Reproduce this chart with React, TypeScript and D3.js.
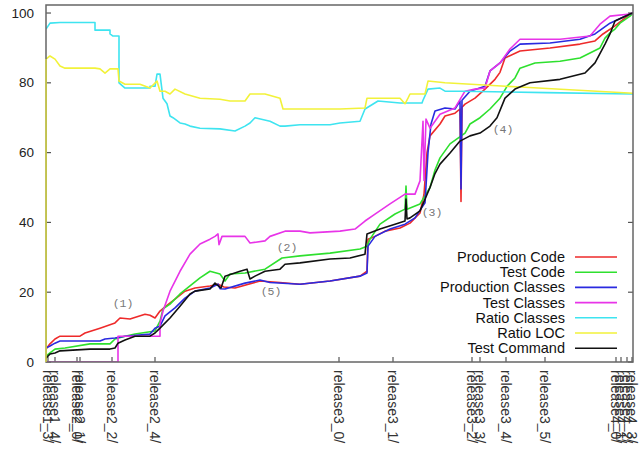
import React from 'react';
import * as d3 from 'd3';

type Pt = [number, number];

// x = commit index, y = percent
const productionCode: Pt[] = [[0,3.7],[4,5.2],[9,6.6],[14,7.4],[34,7.4],[39,8.3],[54,9.7],[69,11.2],[74,12.6],[84,12.3],[99,13.7],[104,13.4],[109,12.6],[114,14.6],[119,15.8],[129,18],[139,20.3],[149,21.2],[164,21.8],[172,22.3],[178,21.5],[189,21.2],[214,23.2],[234,22.8],[254,22.3],[284,23.2],[314,24.6],[321,26],[322,35.2],[329,36],[339,37.5],[354,38.4],[364,39.8],[374,42.7],[378,48],[381,60],[384,64.8],[394,68.2],[399,70.5],[409,71.3],[414,72.5],[415,46],[416,73],[419,73.9],[429,75.6],[439,78.2],[449,81],[454,83],[459,87.1],[474,89.1],[504,90],[534,91.1],[549,92],[557,94],[569,96.3],[584,99.7],[587,100]];
const testCode: Pt[] = [[0,1.7],[4,2.6],[9,3.7],[19,4],[44,5.2],[64,5.2],[69,6.6],[79,7.4],[89,8],[109,8.9],[114,11.7],[117,15.2],[124,16.6],[134,19.5],[144,21.8],[154,24.1],[164,26],[174,25.2],[179,23.2],[184,25.2],[199,25.5],[219,26.6],[236,29.8],[254,30.4],[284,31.2],[314,32.4],[321,33.2],[324,35.2],[334,39.5],[349,42.4],[359,43.8],[360,50.4],[361,43.8],[374,45.3],[384,50],[389,55],[394,58.5],[404,62.5],[419,65.6],[424,68.2],[434,70],[444,72.5],[454,75.6],[461,79],[469,81.4],[474,84.2],[489,85.7],[514,86.2],[534,87.1],[554,90],[559,92.8],[564,94.3],[569,95.4],[574,97.1],[584,99.1],[587,100]];
const productionClasses: Pt[] = [[0,4],[4,4.6],[9,5.4],[14,6],[54,6],[59,6.6],[69,6.9],[79,7.4],[104,8],[109,9.7],[114,10.3],[119,13.2],[129,15.5],[139,18.3],[149,20.3],[164,21.2],[172,22.3],[174,21],[179,20.9],[199,22.6],[214,23.5],[224,22.8],[254,22.3],[284,23.2],[314,24.6],[321,25.5],[322,33.2],[329,36],[344,38.1],[359,39.5],[369,41.3],[379,45.6],[382,60],[385,68.2],[389,71.9],[399,72.8],[409,72.5],[414,74.8],[415,49.6],[416,75],[424,77.6],[439,79],[444,83.4],[454,85.7],[464,89.1],[474,91.1],[504,91.4],[534,92.5],[549,94],[564,97.1],[584,99.7],[587,100]];
const testClasses: Pt[] = [[0,0],[72,0],[72,7.4],[114,7.4],[114,10.9],[117,14.6],[124,20.3],[134,26],[144,30.9],[154,33.8],[164,35.2],[169,36],[172,36.7],[173,33.6],[176,36],[199,36],[204,34.1],[219,34.7],[224,36],[239,37.5],[254,37.5],[264,37],[294,37.5],[309,38.1],[319,40.4],[329,42.4],[344,45.3],[359,48.1],[369,48.1],[374,51.9],[377,69],[378,52],[380,69.6],[384,67],[394,71],[409,72.8],[419,77.6],[429,78.2],[439,78.5],[444,83.4],[454,85.7],[464,89.7],[474,92.5],[514,92.5],[544,93.4],[554,96.8],[564,99.1],[584,99.7],[587,100]];
const ratioClasses: Pt[] = [[0,95.4],[4,97.1],[14,97.3],[49,97.3],[49,95.1],[64,95.1],[64,94],[67,93.4],[73,93.4],[73,80],[79,78.5],[104,78.5],[104,79],[109,79],[111,82.5],[114,82.5],[117,75.6],[121,74],[124,70.5],[127,70],[129,69.6],[134,68.5],[139,68.2],[144,67.6],[154,67],[174,66.8],[189,66.2],[199,67.6],[204,68.5],[209,70],[224,69],[234,67.6],[239,67.6],[254,68],[284,68],[294,68.5],[314,69],[319,72.5],[332,74.8],[354,74.2],[376,74.2],[377,75],[382,78.2],[394,78.5],[399,77.6],[414,77.6],[500,77.2],[587,76.8]];
const ratioLOC: Pt[] = [[0,0],[0,86.8],[4,87.7],[9,86.8],[14,84.8],[19,84.2],[49,84.2],[54,84],[59,82.8],[64,84],[72,84],[73,80.5],[79,79.6],[94,79.6],[104,78.5],[111,80.5],[114,77.6],[119,77.6],[124,76.8],[129,78.2],[139,76.8],[154,75.6],[174,75.3],[184,74.8],[199,74.8],[204,76.8],[219,76.8],[234,75.6],[237,72.5],[294,72.5],[319,72.8],[321,75.6],[354,75.6],[359,74],[362,75.6],[364,76.8],[379,76.8],[382,80.5],[399,80],[474,78.8],[587,77]];
const testCommand: Pt[] = [[0,1.1],[4,2.3],[9,2.6],[14,3.2],[44,3.7],[64,3.7],[69,4],[72,5.4],[79,6.3],[89,7.4],[104,7.4],[109,8.3],[114,9.7],[124,12.6],[134,16],[144,19.5],[149,20.3],[164,20.9],[169,22.6],[175,21.2],[179,24.6],[194,26],[201,26.6],[204,23.8],[209,24.6],[219,26],[234,26.6],[239,28],[254,28.4],[284,29.5],[304,29.8],[319,30.9],[321,36.7],[334,38.1],[349,39.5],[359,40.4],[360,46.7],[361,41],[364,41.3],[374,43.3],[384,50],[389,54],[394,56.7],[404,59.9],[414,63.3],[424,64.8],[434,65.6],[444,67.6],[451,70],[459,75.6],[469,78.2],[484,80],[514,81],[539,82.8],[549,85.7],[559,91.1],[564,94],[569,97.7],[584,99.7],[587,100]];

const seriesNames = ['Production Code','Test Code','Production Classes','Test Classes','Ratio Classes','Ratio LOC','Test Command'];
const seriesColors = ['#ee2a2a','#2ee02e','#2a2ae0','#e834e8','#3ee4f0','#f2f23a','#111111'];
const seriesData = [productionCode, testCode, productionClasses, testClasses, ratioClasses, ratioLOC, testCommand];

const releaseLabels = ['release1_3/','release1_4/','release2_0/','release2_1/','release2_2/','release2_4/','release3_0/','release3_1/','release3_2/','release3_3/','release3_4/','release3_5/','release4_0/','release4_1/','release4_2/','release4_3/'];
const releaseCommits = [2,9,31,34,66,109,293,347,426,434,460,499,570,575,581,586];

const yTicks = [0,20,40,60,80,100];

const annotationLabels = ['(1)','(2)','(3)','(4)','(5)'];
const annotationCommits = [77,241,386,457,225];
const annotationValues = [16.9,32.7,42.7,66.5,20.3];

export default function App() {
  const W = 639, H = 450;
  const left = 46, right = 633, top = 5, bottom = 362;
  const x = d3.scaleLinear().domain([0, 587]).range([left, right]);
  const y = d3.scaleLinear().domain([0, 102.3]).range([bottom, top]);
  const line = d3.line<Pt>().x(d => x(d[0])).y(d => y(d[1]));
  const font = 'Liberation Sans, Arial, sans-serif';
  const legendX = 565, legendY0 = 257, legendStep = 15.2;

  return (
    <svg width={W} height={H} style={{ position: 'absolute', left: 0, top: 0, background: '#fff' }}>
      <defs>
        <clipPath id="plotclip">
          <rect x={left} y={top} width={right - left} height={bottom - top} />
        </clipPath>
      </defs>
      <rect x={0} y={0} width={W} height={H} fill="#fff" />
      {/* ticks */}
      {yTicks.map(t => (
        <g key={'yt' + t}>
          <line x1={left} x2={left + 5} y1={y(t)} y2={y(t)} stroke="#555" strokeWidth={1.2} />
          <line x1={right - 5} x2={right} y1={y(t)} y2={y(t)} stroke="#555" strokeWidth={1.2} />
          <text x={34} y={y(t)} fontFamily={font} fontSize={13.5} fill="#222" textAnchor="end" dominantBaseline="central">{t}</text>
        </g>
      ))}
      {releaseCommits.map((c, i) => (
        <g key={'xt' + i}>
          <line x1={x(c)} x2={x(c)} y1={bottom} y2={bottom - 5} stroke="#555" strokeWidth={1.2} />
          <text transform={`translate(${x(c)},${bottom + 8}) rotate(90)`} fontFamily={font} fontSize={14} fill="#333" textAnchor="start" dominantBaseline="central">{releaseLabels[i]}</text>
        </g>
      ))}
      {/* series */}
      <g clipPath="url(#plotclip)">
        {seriesData.map((d, i) => (
          <path key={seriesNames[i]} d={line(d) || ''} fill="none" stroke={seriesColors[i]} strokeWidth={1.6} strokeLinejoin="round" />
        ))}
      </g>
      {/* annotations */}
      {annotationLabels.map((a, i) => (
        <text key={a} x={x(annotationCommits[i])} y={y(annotationValues[i])} fontFamily="Liberation Mono, DejaVu Sans Mono, monospace" fontSize={11.5} fill="#777" textAnchor="middle" dominantBaseline="central">{a}</text>
      ))}
      {/* legend */}
      {seriesNames.map((n, i) => (
        <g key={'lg' + i}>
          <text x={legendX} y={legendY0 + i * legendStep} fontFamily={font} fontSize={14.5} fill="#111" textAnchor="end" dominantBaseline="central">{n}</text>
          <line x1={575} x2={617} y1={legendY0 + i * legendStep} y2={legendY0 + i * legendStep} stroke={seriesColors[i]} strokeWidth={1.6} />
        </g>
      ))}
      {/* frame */}
      <rect x={left} y={top} width={right - left} height={bottom - top} fill="none" stroke="#666" strokeWidth={1.5} />
      <line x1={left} x2={left} y1={y(0)} y2={y(86.8)} stroke={seriesColors[5]} strokeWidth={1.6} opacity={0.7} />
    </svg>
  );
}
